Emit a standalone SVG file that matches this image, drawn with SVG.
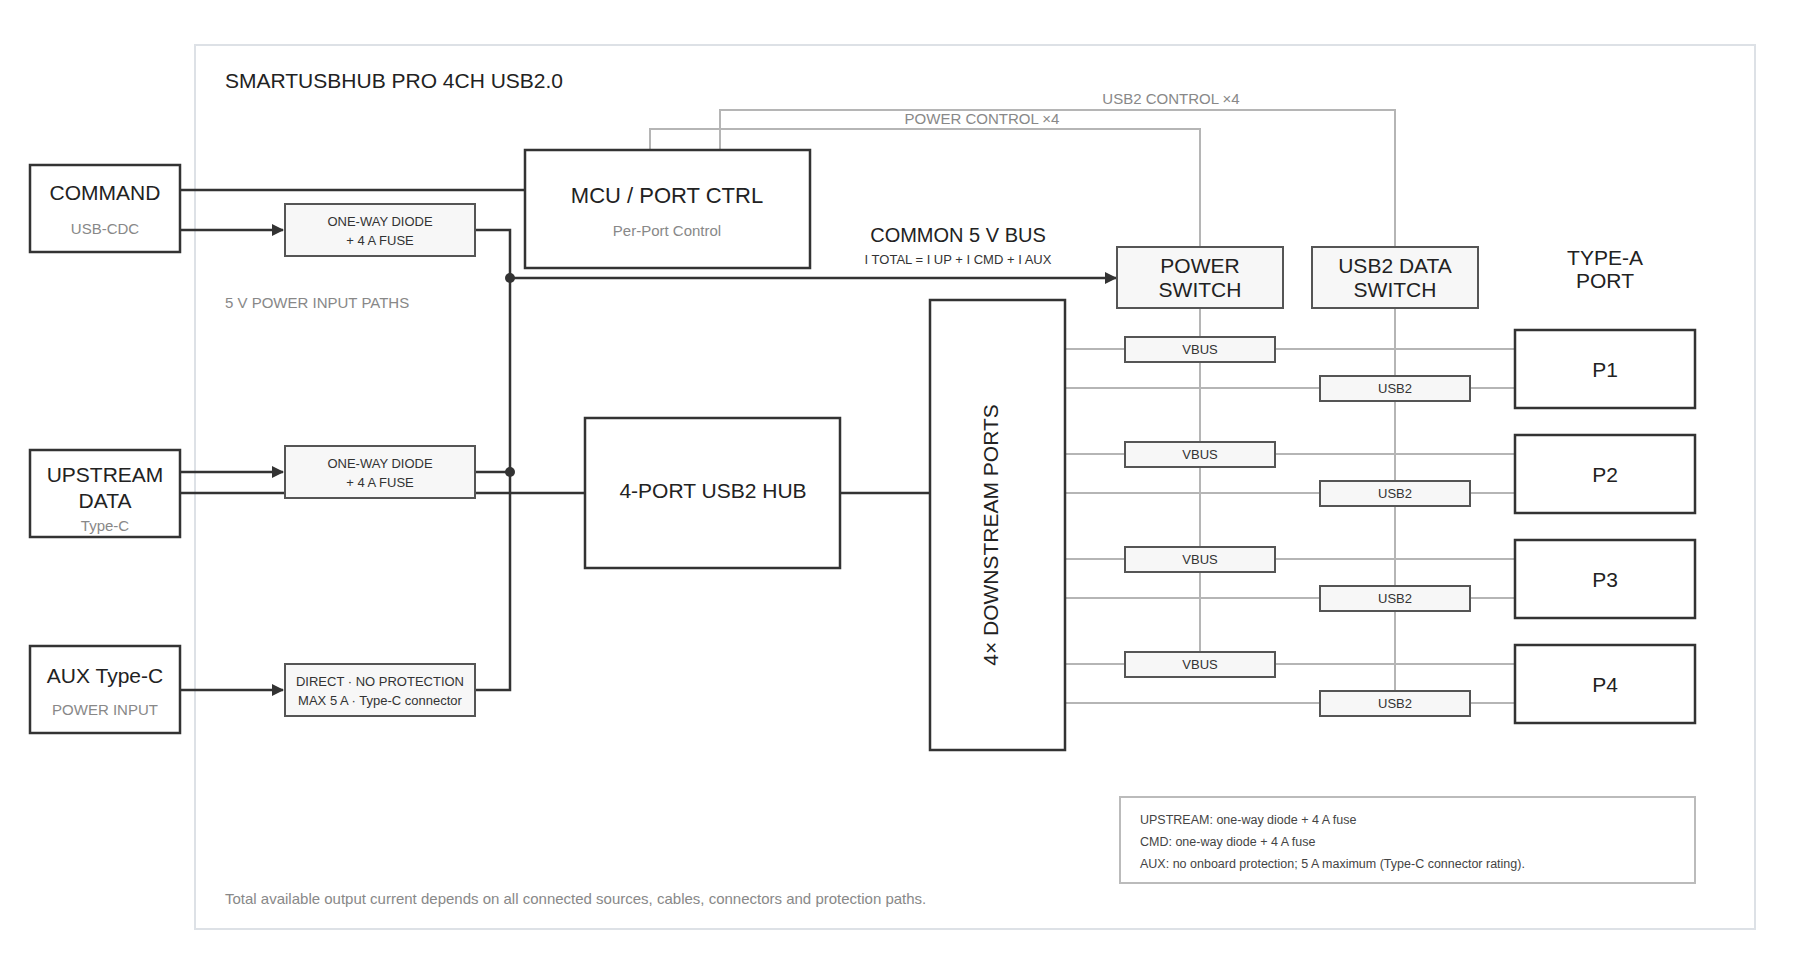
<svg xmlns="http://www.w3.org/2000/svg" width="1800" height="980" viewBox="0 0 1800 980">
<defs>
<marker id="ar" markerWidth="12" markerHeight="12" refX="11" refY="6" orient="auto" markerUnits="userSpaceOnUse"><path d="M0,0 L12,6 L0,12 z" fill="#333"/></marker>
<style>
text{font-family:"Liberation Sans",Arial,sans-serif;fill:#222}
.b{fill:#fff;stroke:#333;stroke-width:2.5}
.s{fill:#f7f7f7;stroke:#555;stroke-width:2}
.k{fill:none;stroke:#333;stroke-width:2.5}
.g{fill:none;stroke:#b5b5b5;stroke-width:2}
.t21{font-size:21px;text-anchor:middle}
.sub{font-size:15px;fill:#888;text-anchor:middle}
.sm{font-size:13px;fill:#333;text-anchor:middle}
.gl{font-size:15px;fill:#888}
</style>
</defs>
<rect width="1800" height="980" fill="#fff"/>
<rect x="195" y="45" width="1560" height="884" fill="none" stroke="#dde1e6" stroke-width="2"/>
<text x="225" y="88" style="font-size:21px">SMARTUSBHUB PRO 4CH USB2.0</text>
<text x="225" y="308" class="gl">5 V POWER INPUT PATHS</text>

<g id="connectors">
<path class="k" d="M180,190 H525"/>
<path class="k" d="M180,230 H283" marker-end="url(#ar)"/>
<path class="k" d="M180,472 H283" marker-end="url(#ar)"/>
<path class="k" d="M180,690 H283" marker-end="url(#ar)"/>
<path class="k" d="M180,493 H585"/>
<path class="k" d="M475,230 H510 V690 H475"/>
<path class="k" d="M475,472 H510"/>
<path class="k" d="M510,278 H1116" marker-end="url(#ar)"/>
<path class="k" d="M840,493 H930"/>
<circle cx="510" cy="278" r="5" fill="#333"/>
<circle cx="510" cy="472" r="5" fill="#333"/>
<path class="g" d="M650,149 V129 H1200 V247"/>
<path class="g" d="M720,149 V110 H1395 V247"/>
<path class="g" d="M1200,308 V652"/>
<path class="g" d="M1395,308 V691"/>
<path class="g" d="M1065,349 H1515 M1065,388 H1515 M1065,454 H1515 M1065,493 H1515 M1065,559 H1515 M1065,598 H1515 M1065,664 H1515 M1065,703 H1515"/>
</g>
<text x="1171" y="104" class="sub">USB2 CONTROL ×4</text>
<text x="982" y="124" class="sub">POWER CONTROL ×4</text>
<text x="958" y="242" style="font-size:20px;text-anchor:middle">COMMON 5 V BUS</text>
<text x="958" y="264" class="sm">I TOTAL = I UP + I CMD + I AUX</text>

<g id="command"><rect class="b" x="30" y="165" width="150" height="87"/><text x="105" y="200" class="t21">COMMAND</text><text x="105" y="234" class="sub">USB-CDC</text></g>
<g id="upstream"><rect class="b" x="30" y="450" width="150" height="87"/><text x="105" y="482" class="t21">UPSTREAM</text><text x="105" y="508" class="t21">DATA</text><text x="105" y="531" class="sub">Type-C</text></g>
<g id="aux"><rect class="b" x="30" y="646" width="150" height="87"/><text x="105" y="683" class="t21">AUX Type-C</text><text x="105" y="715" class="sub">POWER INPUT</text></g>
<g id="diode-cmd"><rect class="s" x="285" y="204" width="190" height="52"/><text x="380" y="226" class="sm">ONE-WAY DIODE</text><text x="380" y="245" class="sm">+ 4 A FUSE</text></g>
<g id="diode-up"><rect class="s" x="285" y="446" width="190" height="52"/><text x="380" y="468" class="sm">ONE-WAY DIODE</text><text x="380" y="487" class="sm">+ 4 A FUSE</text></g>
<g id="direct"><rect class="s" x="285" y="664" width="190" height="52"/><text x="380" y="686" class="sm">DIRECT · NO PROTECTION</text><text x="380" y="705" class="sm">MAX 5 A · Type-C connector</text></g>
<g id="mcu"><rect class="b" x="525" y="150" width="285" height="118"/><text x="667" y="203" style="font-size:22px;text-anchor:middle">MCU / PORT CTRL</text><text x="667" y="236" class="sub">Per-Port Control</text></g>
<g id="hub"><rect class="b" x="585" y="418" width="255" height="150"/><text x="713" y="498" class="t21">4-PORT USB2 HUB</text></g>
<g id="downstream"><rect class="b" x="930" y="300" width="135" height="450"/><text transform="translate(998,535) rotate(-90)" class="t21">4× DOWNSTREAM PORTS</text></g>
<g id="power-switch"><rect class="s" x="1117" y="247" width="166" height="61"/><text x="1200" y="273" class="t21">POWER</text><text x="1200" y="297" class="t21">SWITCH</text></g>
<g id="usb2-switch"><rect class="s" x="1312" y="247" width="166" height="61"/><text x="1395" y="273" class="t21">USB2 DATA</text><text x="1395" y="297" class="t21">SWITCH</text></g>
<text x="1605" y="265" class="t21">TYPE-A</text><text x="1605" y="288" class="t21">PORT</text>
<g id="vbus1"><rect class="s" x="1125" y="337" width="150" height="25"/><text x="1200" y="354" class="sm">VBUS</text></g>
<g id="vbus2"><rect class="s" x="1125" y="442" width="150" height="25"/><text x="1200" y="459" class="sm">VBUS</text></g>
<g id="vbus3"><rect class="s" x="1125" y="547" width="150" height="25"/><text x="1200" y="564" class="sm">VBUS</text></g>
<g id="vbus4"><rect class="s" x="1125" y="652" width="150" height="25"/><text x="1200" y="669" class="sm">VBUS</text></g>
<g id="usb1"><rect class="s" x="1320" y="376" width="150" height="25"/><text x="1395" y="393" class="sm">USB2</text></g>
<g id="usb2"><rect class="s" x="1320" y="481" width="150" height="25"/><text x="1395" y="498" class="sm">USB2</text></g>
<g id="usb3"><rect class="s" x="1320" y="586" width="150" height="25"/><text x="1395" y="603" class="sm">USB2</text></g>
<g id="usb4"><rect class="s" x="1320" y="691" width="150" height="25"/><text x="1395" y="708" class="sm">USB2</text></g>
<g id="p1"><rect class="b" x="1515" y="330" width="180" height="78"/><text x="1605" y="377" class="t21">P1</text></g>
<g id="p2"><rect class="b" x="1515" y="435" width="180" height="78"/><text x="1605" y="482" class="t21">P2</text></g>
<g id="p3"><rect class="b" x="1515" y="540" width="180" height="78"/><text x="1605" y="587" class="t21">P3</text></g>
<g id="p4"><rect class="b" x="1515" y="645" width="180" height="78"/><text x="1605" y="692" class="t21">P4</text></g>
<g id="legend"><rect x="1120" y="797" width="575" height="86" fill="#fff" stroke="#bbb" stroke-width="2"/>
<text x="1140" y="824" style="font-size:12.5px;fill:#444">UPSTREAM: one-way diode + 4 A fuse</text>
<text x="1140" y="846" style="font-size:12.5px;fill:#444">CMD: one-way diode + 4 A fuse</text>
<text x="1140" y="868" style="font-size:12.5px;fill:#444">AUX: no onboard protection; 5 A maximum (Type-C connector rating).</text></g>
<text x="225" y="904" class="gl">Total available output current depends on all connected sources, cables, connectors and protection paths.</text>
</svg>
